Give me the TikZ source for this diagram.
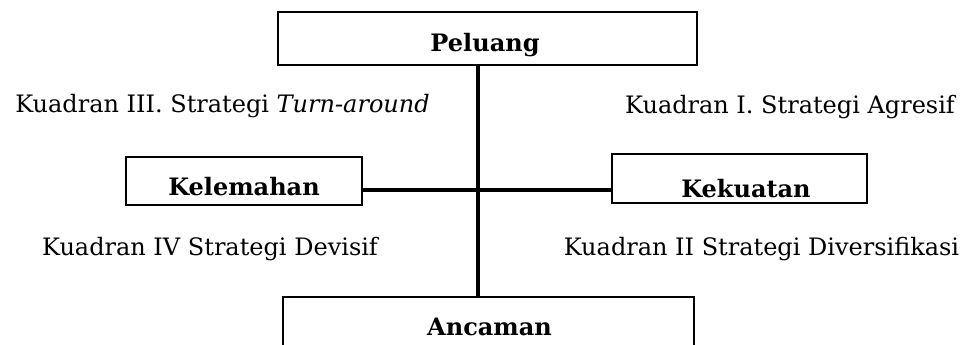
\documentclass[tikz,border=0pt]{standalone}
\usepackage{fontspec}
\setmainfont{DejaVu Serif}
\begin{document}
\begin{tikzpicture}[x=1pt,y=-1pt,
  box/.style={draw=black, line width=2.8pt, inner sep=0pt, fill=none},
  lbl/.style={font=\fontsize{24}{29}\selectfont, inner sep=0pt, anchor=base},
  blbl/.style={font=\fontsize{24}{29}\selectfont\bfseries, inner sep=0pt, anchor=base},
  conn/.style={line width=3.2pt, draw=black}]
\clip (0,0) rectangle (971,345);
\fill[white] (0,0) rectangle (971,345);
% boxes
\node[box, minimum width=419pt, minimum height=53pt] (P) at (487.5,38.5) {};
\node[box, minimum width=236pt, minimum height=48pt] (W) at (244,181) {};
\node[box, minimum width=255pt, minimum height=49pt] (S) at (739.5,178.5) {};
\node[box, minimum width=411pt, minimum height=80pt] (T) at (488.5,337) {};
% box texts
\node[blbl] (Pt) at (485,52) {Peluang};
\node[blbl] (Wt) at (244,195) {Kelemahan};
\node[blbl] (St) at (746,197) {Kekuatan};
\node[blbl] (Tt) at (489.5,335) {Ancaman};
% quadrant texts
\node[lbl] (q3) at (222.5,112) {Kuadran III. Strategi \textit{Turn-around}};
\node[lbl] (q1) at (790,113) {Kuadran I. Strategi Agresif};
\node[lbl] (q4) at (210,255) {Kuadran IV Strategi Devisif};
\node[lbl] (q2) at (761.5,255) {Kuadran II Strategi Diversifikasi};
% connectors
\coordinate (c) at (478,190);
\draw[conn] (c |- P.south) -- (c |- T.north);
\draw[conn] (W.east |- c) -- (S.west |- c);
\end{tikzpicture}
\end{document}
